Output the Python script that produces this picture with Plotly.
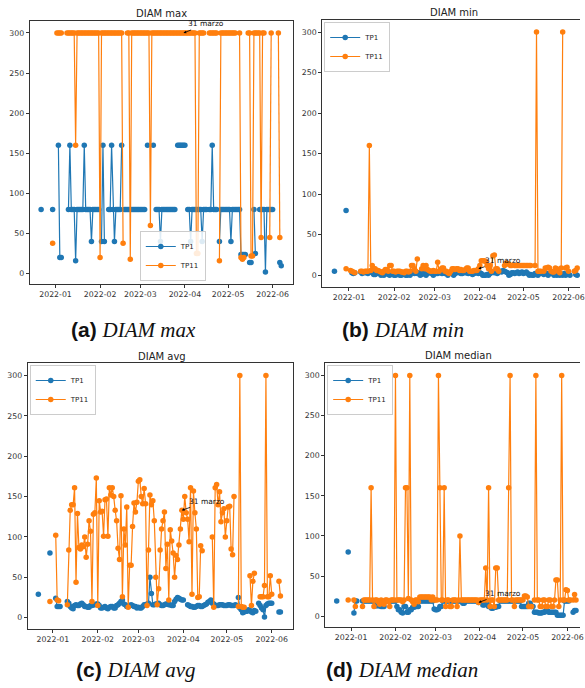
import pandas as pd
import plotly.graph_objects as go

N = None
# one value per day starting 2021-12-22 (14 days per row)
dates = pd.date_range("2021-12-22", periods=168)

max_tp1 = [
    80, N, N, N, N, N, N, N, 80, N, N, N, 160, 20,
    20, N, N, N, N, 80, 160, 80, 80, 80, 16, 80, 80, 80,
    80, 80, 160, 80, 80, 80, 80, 40, 80, 80, 80, 80, 80, N,
    40, 160, 40, N, N, 80, 80, 160, 80, 40, 80, 80, 80, 80,
    160, N, 80, 80, 80, 80, 80, 80, 80, 80, 80, 80, 80, 80,
    80, 80, 80, N, 160, N, N, N, 160, N, 80, 80, 80, 40,
    80, 80, 80, 80, 80, 80, 80, 80, 80, 80, N, 160, 160, 160,
    160, 160, 160, N, 80, 80, 40, 80, 80, 80, 80, 80, 80, 80,
    40, 80, 80, 80, N, 80, 80, 160, 80, 80, 80, N, 40, 80,
    80, 80, 80, 80, 80, 80, 40, 80, 80, 80, 80, 80, 80, 24,
    24, 24, 24, N, N, 14, 14, N, 80, 25, N, N, 80, 80,
    80, 80, 2, 80, 80, 80, 80, 80, N, N, N, N, 14, 10,
]
max_tp11 = [
    N, N, N, N, N, N, N, N, 38, N, N, 300, 300, 300,
    300, N, N, N, 300, 300, 300, 300, 300, 300, 160, 300, 300, 300,
    300, 300, 300, 300, 300, 300, 300, 300, 300, 300, 300, 300, 300, 20,
    300, 300, 300, 300, 300, 300, 300, 300, 300, 300, 300, 300, 300, 300,
    300, 38, N, N, 300, 300, 18, 300, 300, 300, 300, 300, 300, 300,
    300, 300, 300, 300, 300, 300, 60, 300, 300, 300, 300, 300, 300, 300,
    300, 300, 300, 300, 300, 300, 300, 300, 300, 300, 300, 300, 300, 300,
    300, 300, 300, 300, 300, 300, 300, 300, 300, 300, 25, 25, 300, 300,
    300, 300, N, N, N, 300, 300, 300, 300, 300, 300, N, 16, 300,
    300, 300, 300, 300, 300, 300, 300, 300, 300, 300, N, N, 300, 20,
    18, 20, N, N, 300, 300, 22, 22, 300, 300, 300, 300, 300, 45,
    300, 300, N, N, N, 45, 300, N, N, N, N, 300, 45, N,
]
min_tp1 = [
    5, N, N, N, N, N, N, N, 80, N, N, N, 3, 2,
    3, N, N, N, 4, 2, 4, 3, 4, 2, 4, 5, 3, 1,
    1, 2, 3, 2, 0, 1, 0, 2, 3, 1, 0, 2, 3, 0,
    0, 1, 2, 0, 0, 1, 3, 0, 0, 2, 0, 4, 3, 2,
    4, 2, 3, 0, 1, 3, 2, 0, 2, 3, 4, 2, 0, 3,
    2, 2, 4, 3, 2, 4, 2, 3, 0, 2, 3, 2, 0, 2,
    3, 4, 3, 2, 2, 4, 3, 3, 2, 4, 2, 1, 2, 3,
    3, 2, 3, 2, 0, 0, 0, 1, 0, 2, 3, 4, 3, 4,
    2, 4, 5, 4, 6, 5, 4, 3, 0, 1, 3, 3, 2, 3,
    4, 2, 3, 4, 2, 3, 4, 2, 0, 1, 0, 0, 2, 1,
    0, 2, 3, 2, 1, 3, 2, 0, 2, 3, 2, 0, 1, 0,
    2, 0, 1, 0, 2, 0, 1, 2, 0, N, N, N, 1, 0,
]
min_tp11 = [
    N, N, N, N, N, N, N, N, 8, N, N, 6, 5, 4,
    3, N, N, N, 5, 5, 4, 5, 5, 5, 160, 6, 12, 8,
    8, 6, 6, 5, 4, 3, 5, 7, 7, 5, 12, 12, 5, 5,
    4, 5, 5, 5, 4, 4, 3, 5, 5, 4, 5, 12, 12, 8,
    5, 20, N, N, 8, 12, 8, 12, 7, 6, 5, 5, 6, 5,
    5, 16, 5, 7, 9, 9, 5, 5, 3, 2, 5, 8, 8, 7,
    8, 8, 6, 7, 6, 6, 7, 9, 9, 5, 5, 5, 6, 6,
    6, 8, 12, 18, 18, 18, 17, 12, 8, 12, 5, 24, 25, 8,
    8, 5, N, N, N, 12, 15, 14, 14, 12, 12, N, 12, 12,
    12, 12, 12, 12, 12, 12, 12, 12, 12, 12, N, N, 12, 300,
    5, 5, 5, N, 5, 9, 9, 10, 9, 5, 4, 4, 9, 8,
    5, 3, 9, 300, N, 9, 10, 5, N, N, N, 5, 6, 9,
]
avg_tp1 = [
    29, N, N, N, N, N, N, N, 80, N, N, N, 24, 14,
    14, 14, N, N, N, N, 20, 18, 14, 12, 11, 15, 16, 15,
    15, 17, 18, 16, 14, 14, 13, 13, 15, 15, 16, 16, 17, 17,
    15, 12, 12, 13, 14, 12, 11, 13, 14, 14, 12, 12, 15, 16,
    18, 20, 22, 17, 16, 14, 14, 15, 16, 15, 14, 14, 12, 13,
    12, 12, 14, 16, 16, 17, 18, 50, 30, 16, 16, 17, 17, 18,
    16, 15, 15, 16, 17, 17, 16, 16, 15, 15, 20, 23, 25, 24,
    23, 22, 22, N, N, 16, 15, 14, 14, 13, 13, 14, 15, 15,
    14, 14, 15, 16, 17, 19, 20, 22, 18, 17, 15, 15, 15, 16,
    16, 16, 15, 15, 15, 16, 16, 15, 15, 15, 16, N, 25, 12,
    10, 6, 7, 8, 8, 10, 9, 7, 6, 9, 8, N, 18, 15,
    12, 10, 1, 15, 17, 18, 18, 18, N, N, N, N, 7, 7,
]
avg_tp11 = [
    N, N, N, N, N, N, N, N, 20, N, N, N, 102, 22,
    21, N, N, N, N, N, 16, 84, 133, 140, 140, 161, 44, 129,
    87, 85, 90, 88, 100, 75, 91, 120, 107, 20, 128, 130, 173, 15,
    145, 131, 132, 101, 146, 147, 101, 161, 152, 161, 150, 133, 120, 86,
    72, 151, 26, 110, 90, 137, 13, 65, 65, 113, 142, 131, 143, 169,
    171, 150, 141, 160, 141, 15, 84, 152, 140, 145, 120, 50, 16, 36,
    84, 110, 120, 131, 61, 91, 22, 109, 95, 80, 50, 77, 72, 90,
    110, 133, 122, 150, 130, 122, 94, 161, 29, 157, 130, 110, 25, 26,
    89, 83, N, N, N, N, N, N, 100, 13, 161, 165, 140, 156,
    119, 130, 135, 100, 120, 137, 138, 85, 78, 150, N, N, 14, 300,
    14, 13, 13, N, N, N, 52, 15, 45, 55, N, N, N, 26,
    26, 26, 40, 300, 26, 26, 52, 29, N, N, N, N, 45, 27,
]
med_tp1 = [
    19, N, N, N, N, N, N, N, 80, N, N, N, 4, 19,
    19, N, N, N, 19, 19, 19, 19, 19, 19, 19, 19, 19, 13,
    13, 13, 13, 12, 12, 12, 19, 19, 19, 19, 19, 19, 19, 19,
    12, 8, 8, 5, 4, 12, 12, 5, 5, 8, 8, 11, 11, 12,
    12, 12, 19, 19, 19, 19, 19, 19, 19, 19, 19, 19, 9, 8,
    8, 9, 12, 12, 19, 19, 19, 19, 19, 19, 19, 19, 19, 19,
    19, 19, 19, 19, 16, 16, 19, 19, 19, 19, 19, 19, 19, 19,
    19, 17, 19, 19, 14, 14, 16, 16, 12, 12, 10, 10, 11, 11,
    12, 12, 19, 19, 19, 19, 19, 19, 19, 19, 19, 19, 19, 19,
    19, 19, 19, 12, 12, 12, 12, 12, 16, 16, 12, 12, 5, 5,
    5, 4, 4, 4, 5, 5, 7, 7, 5, 5, 5, 5, 5, 5,
    1, 1, 1, 1, 1, 19, 19, 19, 19, N, N, 5, 7, 7,
]
med_tp11 = [
    N, N, N, N, N, N, N, N, 20, N, N, N, 20, 12,
    N, N, N, N, 12, 20, 20, 20, 20, 20, 160, 20, 12, 20,
    20, 18, 15, 20, 17, 15, 20, 20, 18, 12, 20, 20, 20, 300,
    20, 20, 20, 20, 18, 20, 160, 160, 22, 300, 20, 18, 15, 20,
    20, 18, 24, 24, 24, 24, 24, 24, 24, 24, 20, 24, 20, 20,
    20, 300, 160, 20, 20, 160, 12, 20, 20, 12, 12, 20, 20, 20,
    12, 20, 100, 20, 20, 20, 20, 20, 20, 20, 20, 20, 20, 20,
    20, 17, 20, 20, 20, 20, 60, 20, 160, 12, 20, 20, 12, 60,
    60, 20, 20, 20, 20, 20, 20, 20, 160, 300, 20, 20, 12, 20,
    20, 20, 20, 20, 20, 25, 25, 24, 12, 12, 12, N, 20, 300,
    20, 20, 12, 12, 20, 20, 12, 12, 20, 20, 12, 12, 20, 45,
    45, 12, 20, 300, 20, 20, 33, 32, 20, 20, N, 20, 27, 20,
]

titles = ["DIAM max", "DIAM min", "DIAM avg", "DIAM median"]
letters = ["(a)", "(b)", "(c)", "(d)"]
series_names = ["TP1", "TP11"]
annot_text = "31 marzo"
annot_date = "2022-03-31"

W, H = 585, 688
BLUE, ORANGE = "#1f77b4", "#ff7f0e"

# layout geometry in pixels: (left, right, top, bottom)
boxes = [(30, 296, 21, 284), (325, 585, 20, 287), (28, 296, 363, 629), (328, 585, 363, 627)]
xranges = [["2021-12-14 02:00", "2022-06-15 12:00"], ["2021-12-13 14:00", "2022-06-08 22:00"],
           ["2021-12-14 17:00", "2022-06-16 00:00"], ["2021-12-13 23:00", "2022-06-09 19:00"]]
yranges = [[-12.9, 314.9], [-14.5, 314.8], [-14, 315.5], [-13.5, 315.5]]
# legend anchor: (x px, y px, yanchor)
legend_pos = [(141, 281, "bottom"), (327, 22, "top"), (30, 365, "top"), (330, 365, "top")]
ann_pts = [(300, 23, -9), (8, 25, -8), (133, 25, -9), (17, 24, -9)]
title_pos = [(163, 13), (458, 12), (163, 356), (462, 355)]
caption_pos = [(135, 330), (406, 330), (137, 670), (405, 670)]

data = [(max_tp1, max_tp11), (min_tp1, min_tp11), (avg_tp1, avg_tp11), (med_tp1, med_tp11)]

fig = go.Figure()
layout = dict(width=W, height=H, margin=dict(l=0, r=0, t=0, b=0),
              paper_bgcolor="white", plot_bgcolor="white", annotations=[])
tickfont = dict(family="DejaVu Sans", size=7.8, color="#333")

for i in range(4):
    l, r, t, b = boxes[i]
    sfx = "" if i == 0 else str(i + 1)
    xa, ya = "xaxis" + sfx, "yaxis" + sfx
    lg = "legend" + sfx
    for j, (vals, col) in enumerate(zip(data[i], [BLUE, ORANGE])):
        fig.add_trace(go.Scatter(
            x=dates, y=vals, mode="lines+markers", name=series_names[j],
            line=dict(color=col, width=1.2), marker=dict(color=col, size=5.5),
            xaxis="x" + sfx, yaxis="y" + sfx, legend=lg, connectgaps=False))
    clipped = r >= 585
    layout[xa] = dict(domain=[l / W, r / W], range=xranges[i], anchor="y" + sfx,
                      type="date", tickformat="%Y-%m", dtick="M1", tick0="2022-01-01",
                      showgrid=False, zeroline=False, showline=True, mirror=True,
                      linecolor="#333", linewidth=1, ticks="outside", ticklen=3,
                      tickwidth=0.8, tickcolor="#333", tickfont=tickfont,
                      ticklabeloverflow="allow")
    layout[ya] = dict(domain=[1 - b / H, 1 - t / H], range=yranges[i], anchor="x" + sfx,
                      tick0=0, dtick=50, showgrid=False, zeroline=False, showline=True,
                      mirror=not clipped, linecolor="#333", linewidth=1, ticks="outside",
                      ticklen=3, tickwidth=0.8, tickcolor="#333", tickfont=tickfont)
    lx, ly, lya = legend_pos[i]
    layout[lg] = dict(x=lx / W, y=1 - ly / H, xanchor="left", yanchor=lya,
                      bgcolor="rgba(255,255,255,0.85)", bordercolor="#cccccc", borderwidth=1,
                      font=dict(family="DejaVu Sans", size=7, color="#222"),
                      itemwidth=30, tracegroupgap=0)
    yv, axp, ayp = ann_pts[i]
    layout["annotations"].append(dict(
        x=annot_date, y=yv, xref="x" + sfx, yref="y" + sfx, text=annot_text,
        showarrow=True, ax=axp, ay=ayp, arrowhead=2, arrowsize=0.7, arrowwidth=0.8,
        arrowcolor="black", font=dict(family="DejaVu Sans", size=7.5, color="#111")))
    tx, ty = title_pos[i]
    layout["annotations"].append(dict(
        x=tx / W, y=1 - ty / H, xref="paper", yref="paper", text=titles[i],
        showarrow=False, xanchor="center", yanchor="middle",
        font=dict(family="DejaVu Sans", size=10, color="#222")))
    cx, cy = caption_pos[i]
    layout["annotations"].append(dict(
        x=cx / W, y=1 - cy / H, xref="paper", yref="paper",
        text="<b>" + letters[i] + "</b> <span style=\"font-family:Liberation Serif;font-style:italic\">"
             + titles[i] + "</span>",
        showarrow=False, xanchor="center", yanchor="middle",
        font=dict(family="Liberation Sans", size=21, color="#111")))

fig.update_layout(**layout)
fig.write_html("out.html", config={"displayModeBar": False},
               post_script="document.body.style.margin='0';document.body.style.overflow='hidden';")
